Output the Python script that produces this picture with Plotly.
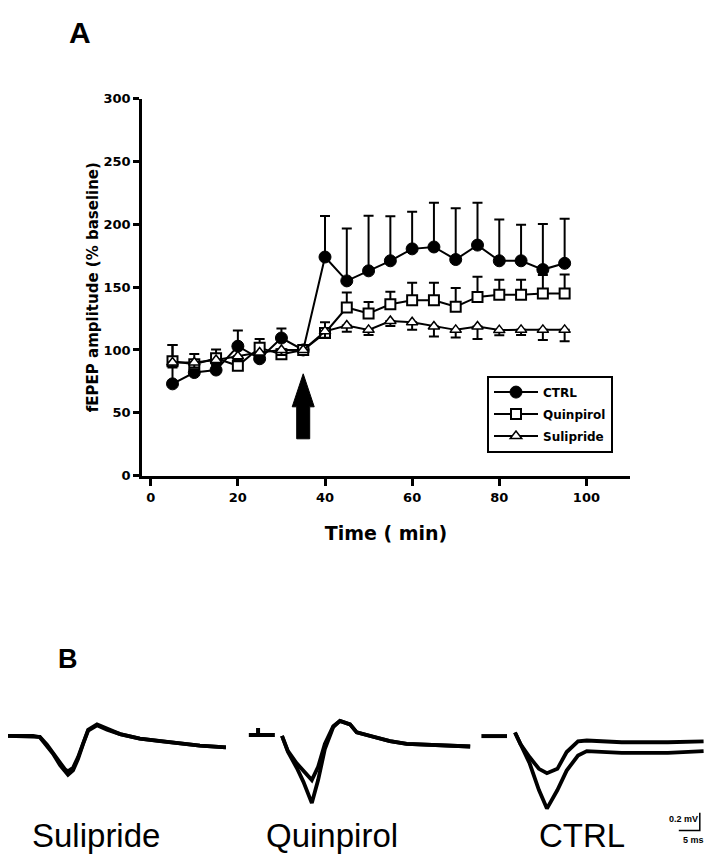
import plotly.graph_objects as go

# page body has an 8 px default margin: size the figure so it fills the window exactly
PAGE_W, PAGE_H = 722, 867
OFF = 8
W, H = PAGE_W - OFF, PAGE_H - OFF

# ---------------- Panel A data ----------------
time_min = [5, 10, 15, 20, 25, 30, 35, 40, 45, 50, 55, 60, 65, 70, 75, 80, 85, 90, 95]
ctrl = [73, 82, 84, 103, 93, 109.5, 100, 174, 155, 163, 171, 180.5, 182, 172, 183.5, 171, 171, 164, 169]
ctrl_err = [31, 10, 6, 12.5, 5, 7.5, 0, 32.6, 41.7, 43.8, 35.4, 29.5, 35.3, 40.9, 33.7, 32.8, 28.7, 36.3, 35.5]
quin = [91, 88.7, 93.4, 87.4, 101.7, 96.5, 100, 113.5, 133.8, 129.1, 136.4, 139.6, 139.6, 134.4, 142.2, 144, 144, 145, 145]
quin_err = [13, 8, 7, 5, 7, 4, 0, 8.5, 12, 9, 10, 14, 14, 15, 16, 12, 12, 14.6, 15]
sul = [90, 90, 92, 95, 98, 100, 100, 114.8, 119.5, 116, 123, 122, 118.7, 116, 118.7, 115.8, 116, 116, 116]
sul_err = [4, 4, 4, 4, 4, 4, 0, 5, 5, 4, 4, 6, 8, 6, 10, 4, 4, 8, 9]

x_ticks = [0, 20, 40, 60, 80, 100]
y_ticks = [0, 50, 100, 150, 200, 250, 300]
ARROW_TIME = 35
ARROW_TIP = 81

# ---------------- Panel B data (ms, mV) ----------------
sul_t = [0, 6.7, 8.3, 10.0, 11.4, 13.1, 14.3, 15.0, 16.2, 17.4, 18.6, 19.8, 21.9, 24.3, 27.4, 32.1, 36.9, 41.7, 46.4, 52.6]
sul_v1 = [0, 0, -0.015, -0.11, -0.20, -0.33, -0.41, -0.44, -0.39, -0.26, -0.09, 0.06, 0.12, 0.07, 0.02, -0.03, -0.06, -0.09, -0.11, -0.13]
sul_v2 = [0, 0, -0.01, -0.10, -0.19, -0.31, -0.38, -0.40, -0.36, -0.24, -0.07, 0.07, 0.13, 0.08, 0.02, -0.03, -0.06, -0.08, -0.11, -0.13]

quin_pre_t = [-7.9, -5.7, -5.7, -5.7, -1.7]
quin_pre_v = [0.01, 0.01, 0.09, 0.01, 0.01]
quin_t = [0, 1.4, 3.5, 5.1, 7.1, 8.6, 10.2, 12.2, 13.8, 16.2, 17.8, 21.7, 25.7, 29.7, 33.6, 37.6, 44.8]
quin_v1 = [0, -0.17, -0.31, -0.40, -0.50, -0.35, -0.09, 0.11, 0.17, 0.13, 0.04, -0.01, -0.06, -0.09, -0.10, -0.11, -0.12]
quin_v2 = [0, -0.18, -0.36, -0.52, -0.76, -0.50, -0.15, 0.10, 0.17, 0.13, 0.04, -0.01, -0.06, -0.09, -0.10, -0.11, -0.12]

ctrl_pre_t = [-8.0, -1.9]
ctrl_pre_v = [-0.04, -0.04]
ctrl_t = [0, 1.3, 3.5, 5.7, 7.6, 10.1, 12.3, 15.0, 17.1, 25.4, 36.4, 44.9]
ctrl_v1 = [0, -0.13, -0.28, -0.41, -0.46, -0.41, -0.22, -0.10, -0.09, -0.11, -0.11, -0.10]
ctrl_v2 = [0, -0.13, -0.35, -0.65, -0.86, -0.65, -0.43, -0.26, -0.21, -0.23, -0.23, -0.21]

SCALE_MS = 5
SCALE_MV = 0.2


# ---------------- layout helpers (page pixel -> paper fraction) ----------------
def fx(px):
    return (px - OFF) / W


def fy(py):
    return 1 - (py - OFF) / H


BOLD = dict(family="DejaVu Sans", color="black", weight="bold")

fig = go.Figure()

# Panel A traces
fig.add_trace(go.Scatter(
    x=time_min, y=ctrl, name="CTRL", legendgroup="g1", mode="lines+markers",
    line=dict(color="black", width=2),
    marker=dict(symbol="circle", size=12, color="black", line=dict(color="black", width=1)),
    error_y=dict(type="data", array=ctrl_err, arrayminus=[0] * len(ctrl_err), symmetric=False,
                 color="black", thickness=2, width=5),
    xaxis="x", yaxis="y"))
fig.add_trace(go.Scatter(
    x=time_min, y=quin, name="Quinpirol", legendgroup="g2", mode="lines+markers",
    line=dict(color="black", width=2),
    marker=dict(symbol="square", size=10, color="white", line=dict(color="black", width=2)),
    error_y=dict(type="data", array=quin_err, arrayminus=[0] * len(quin_err), symmetric=False,
                 color="black", thickness=2, width=5),
    xaxis="x", yaxis="y"))
fig.add_trace(go.Scatter(
    x=time_min, y=sul, name="Sulipride", legendgroup="g3", mode="lines+markers",
    line=dict(color="black", width=2),
    marker=dict(symbol="triangle-up", size=10, color="white", line=dict(color="black", width=1.5)),
    error_y=dict(type="data", array=[0] * len(sul_err), arrayminus=sul_err, symmetric=False,
                 color="black", thickness=2, width=5),
    xaxis="x", yaxis="y"))

# Panel B traces
PX_PER_MS = 4.2
PX_PER_MV = 90.0
recordings = [
    # (t, v1, v2, pre_t, pre_v, px0, base_py, left_px, right_px)
    (sul_t, sul_v1, sul_v2, None, None, 5, 741.7, 8, 240),
    (quin_t, quin_v1, quin_v2, quin_pre_t, quin_pre_v, 282, 741.7, 240, 480),
    (ctrl_t, ctrl_v1, ctrl_v2, ctrl_pre_t, ctrl_pre_v, 515, 738.3, 478, 722),
]
TOP_PY, BOT_PY = 690, 860

axis_layout = {}
for i, (t, v1, v2, pt, pv, px0, base, lpx, rpx) in enumerate(recordings):
    n = i + 2
    xa, ya = f"x{n}", f"y{n}"
    for v in (v1, v2):
        fig.add_trace(go.Scatter(x=t, y=v, mode="lines", line=dict(color="black", width=3.8),
                                 showlegend=False, xaxis=xa, yaxis=ya, hoverinfo="skip",
                                 cliponaxis=False))
    if pt is not None:
        fig.add_trace(go.Scatter(x=pt, y=pv, mode="lines", line=dict(color="black", width=4),
                                 showlegend=False, xaxis=xa, yaxis=ya, hoverinfo="skip"))
    axis_layout[f"xaxis{n}"] = dict(domain=[fx(lpx), fx(rpx)],
                                    range=[(lpx - px0) / PX_PER_MS, (rpx - px0) / PX_PER_MS],
                                    visible=False, anchor=ya)
    axis_layout[f"yaxis{n}"] = dict(domain=[fy(BOT_PY), fy(TOP_PY)],
                                    range=[(base - BOT_PY) / PX_PER_MV, (base - TOP_PY) / PX_PER_MV],
                                    visible=False, anchor=xa)

# Scale bar on the CTRL recording axes
SB_T0, SB_V0 = 39.0, -1.108
fig.add_trace(go.Scatter(x=[SB_T0, SB_T0 + SCALE_MS, SB_T0 + SCALE_MS],
                         y=[SB_V0, SB_V0, SB_V0 + SCALE_MV],
                         mode="lines", line=dict(color="black", width=1.5),
                         showlegend=False, xaxis="x4", yaxis="y4", hoverinfo="skip"))

fig.update_layout(
    width=W, height=H, autosize=False,
    margin=dict(l=0, r=0, t=0, b=0),
    paper_bgcolor="white", plot_bgcolor="white",
    showlegend=True,
    legend=dict(x=fx(487), y=fy(375), xanchor="left", yanchor="top",
                bgcolor="white", bordercolor="black", borderwidth=2,
                font=dict(family="DejaVu Sans", size=12, color="black", weight="bold"),
                itemwidth=44, tracegroupgap=3),
    xaxis=dict(domain=[fx(142), fx(630)], range=[-2, 110], tickvals=x_ticks,
               showline=True, linecolor="black", linewidth=2.5, mirror=False,
               ticks="outside", ticklen=8, tickwidth=2.5, tickcolor="black",
               showgrid=False, zeroline=False,
               tickfont=dict(size=13, **BOLD),
               title=dict(text="Time ( min)", font=dict(size=19, **BOLD), standoff=23),
               anchor="y"),
    yaxis=dict(domain=[fy(476.7), fy(93.3)], range=[0, 300], tickvals=y_ticks,
               showline=True, linecolor="black", linewidth=2.5,
               ticks="outside", ticklen=6, tickwidth=2.5, tickcolor="black",
               showgrid=False, zeroline=False,
               tickfont=dict(size=13, **BOLD),
               title=dict(text="fEPEP amplitude (% baseline)", font=dict(size=15, **BOLD), standoff=2),
               anchor="x"),
    **axis_layout,
)

# Arrow marking drug application
fig.add_shape(type="path", xref="x", yref="y", xsizemode="pixel", ysizemode="pixel",
              xanchor=ARROW_TIME, yanchor=ARROW_TIP,
              path="M0,0 L11,-33 L6.5,-33 L6.5,-65 L-6.5,-65 L-6.5,-33 L-11,-33 Z",
              fillcolor="black", line=dict(color="black", width=1))

LBL = dict(family="Liberation Sans", color="black")
annos = [
    dict(text="A", x=fx(80), y=fy(26), font=dict(size=30, weight="bold", **LBL)),
    dict(text="B", x=fx(68), y=fy(663), font=dict(size=27, weight="bold", **LBL)),
    dict(text="Sulipride", x=fx(96), y=fy(843), font=dict(size=33, **LBL)),
    dict(text="Quinpirol", x=fx(332), y=fy(843), font=dict(size=33, **LBL)),
    dict(text="CTRL", x=fx(582), y=fy(843), font=dict(size=33, **LBL)),
    dict(text="0.2 mV", x=fx(683), y=fy(826), font=dict(size=9, weight="bold", **LBL)),
    dict(text="5 ms", x=fx(693), y=fy(848), font=dict(size=9, weight="bold", **LBL)),
]
for a in annos:
    fig.add_annotation(xref="paper", yref="paper", showarrow=False,
                       xanchor="center", yanchor="middle", **a)

fig.write_html("out.html")
